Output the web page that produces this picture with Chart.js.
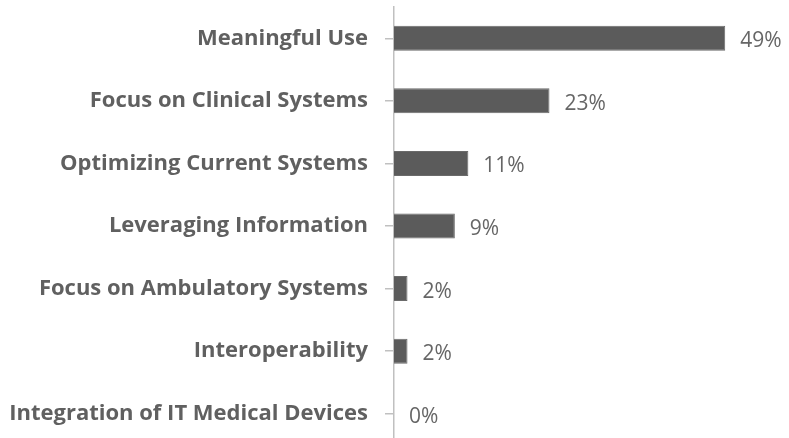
<!DOCTYPE html>
<html>
<head>
<meta charset="utf-8">
<script src="https://cdn.jsdelivr.net/npm/chart.js@4"></script>
<style>
  html, body { margin: 0; padding: 0; background: #fff; overflow: hidden; }
  canvas { display: block; }
</style>
</head>
<body>
<canvas id="chart" width="789" height="446"></canvas>
<script>
var categories = [
    'Meaningful Use',
    'Focus on Clinical Systems',
    'Optimizing Current Systems',
    'Leveraging Information',
    'Focus on Ambulatory Systems',
    'Interoperability',
    'Integration of IT Medical Devices'
];
var shares = [49, 23, 11, 9, 2, 2, 0];

// value labels after each bar
var valueLabels = {
    id: 'valueLabels',
    afterDatasetsDraw: function(chart) {
        var ctx = chart.ctx;
        var meta = chart.getDatasetMeta(0);
        ctx.save();
        ctx.font = '21px "Open Sans"';
        ctx.fillStyle = '#666666';
        ctx.textAlign = 'left';
        ctx.textBaseline = 'middle';
        meta.data.forEach(function(bar, i) {
            ctx.fillText(shares[i] + '%', bar.x + 15, bar.y + 3);
        });
        ctx.restore();
    }
};

new Chart(document.getElementById('chart'), {
    type: 'bar',
    data: {
        labels: categories,
        datasets: [{
            data: shares,
            backgroundColor: '#5b5b5b',
            borderColor: '#6a6a6a',
            borderWidth: 1,
            barPercentage: 0.4,
            categoryPercentage: 1
        }]
    },
    options: {
        indexAxis: 'y',
        responsive: false,
        animation: false,
        layout: { padding: { top: 7, right: 57, bottom: 1, left: 0 } },
        plugins: {
            legend: { display: false },
            tooltip: { enabled: false }
        },
        scales: {
            x: { display: false, min: 0, max: 50 },
            y: {
                afterFit: function(scale) {
                    scale.width = 394;
                    scale.paddingTop = 0;
                    scale.paddingBottom = 0;
                },
                border: { display: true, color: '#c0c0c0', width: 1.5 },
                grid: { drawOnChartArea: false, drawTicks: true, tickLength: 9, offset: false, color: '#c0c0c0', lineWidth: 1.5 },
                ticks: {
                    padding: 17,
                    color: '#606060',
                    font: { family: 'Open Sans', size: 22, weight: 'bold' }
                }
            }
        }
    },
    plugins: [valueLabels]
});
</script>
</body>
</html>
